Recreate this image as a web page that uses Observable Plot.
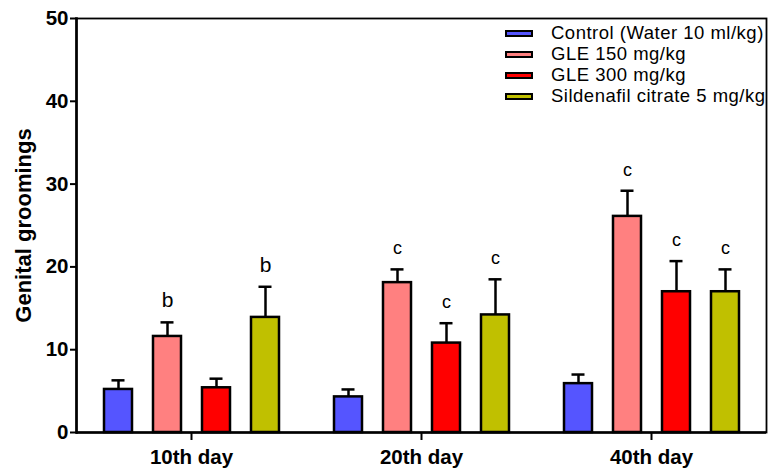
<!DOCTYPE html>
<html><head><meta charset="utf-8">
<script src="https://cdn.jsdelivr.net/npm/d3@7"></script>
<script src="https://cdn.jsdelivr.net/npm/@observablehq/plot@0.6"></script>
<style>
body{margin:0;background:#fff;}
#wrap{position:relative;width:769px;height:469px;font-family:"Liberation Sans",Arial,sans-serif;}
#wrap svg{display:block;}
#legend{position:absolute;left:505px;top:22.7px;}
.row{display:flex;align-items:center;height:21.1px;}
.sw{width:24px;height:3px;border:2px solid #000;margin-right:18px;flex:none;}
.lab{font-size:18.5px;letter-spacing:0.5px;color:#000;white-space:nowrap;line-height:1;}
</style></head><body><div id="wrap"><div id="legend"></div></div>
<script>
const groups = ["10th day", "20th day", "40th day"];
const series = ["Control (Water 10 ml/kg)", "GLE 150 mg/kg", "GLE 300 mg/kg", "Sildenafil citrate 5 mg/kg"];
const colors = ["#5555ff", "#ff8080", "#ff0000", "#c0c000"];
const means10 = [5.2, 11.6, 5.4, 13.9];
const sems10  = [1.1, 1.7, 1.1, 3.7];
const sig10   = ["", "b", "", "b"];
const means20 = [4.3, 18.1, 10.8, 14.2];
const sems20  = [0.9, 1.6, 2.4, 4.3];
const sig20   = ["", "c", "c", "c"];
const means40 = [5.9, 26.1, 17.0, 17.0];
const sems40  = [1.1, 3.1, 3.7, 2.7];
const sig40   = ["", "c", "c", "c"];
const yTicks = [0, 10, 20, 30, 40, 50];
const yLabel = "Genital groomings";

const means = [means10, means20, means40];
const sems = [sems10, sems20, sems40];
const sigs = [sig10, sig20, sig40];
const data = [];
groups.forEach((g, gi) => series.forEach((s, si) => data.push({
  group: g, series: s, mean: means[gi][si], sem: sems[gi][si], sig: sigs[gi][si]
})));

const plot = Plot.plot({
  width: 769, height: 469,
  marginLeft: 76, marginRight: 3, marginTop: 18, marginBottom: 37,
  style: {fontFamily: "Liberation Sans, Arial, sans-serif", fontSize: "19px", color: "#000", background: "#fff", overflow: "visible"},
  fx: {domain: groups, padding: 0, label: null},
  x: {domain: series, paddingInner: 0.43, paddingOuter: 0.54, axis: null},
  y: {domain: [0, 50]},
  color: {domain: series, range: colors},
  marks: [
    Plot.frame({facet: "super", stroke: "#000", strokeWidth: 1.8}),
    Plot.frame({facet: "super", anchor: "left", stroke: "#000", strokeWidth: 2.6}),
    Plot.barY(data, {fx: "group", x: "series", y: "mean", fill: "series", stroke: "#000", strokeWidth: 2.5}),
    Plot.ruleX(data, {fx: "group", x: "series", y1: "mean", y2: d => d.mean + d.sem, stroke: "#000", strokeWidth: 2.5}),
    Plot.tickY(data, {fx: "group", x: "series", y: d => d.mean + d.sem, stroke: "#000", strokeWidth: 2.5, insetLeft: 7.5, insetRight: 7.5}),
    Plot.text(data.filter(d => d.sig), {fx: "group", x: "series", y: d => d.mean + d.sem, text: "sig", dy: -15, lineAnchor: "bottom",
      fontSize: d => d.sig === "b" ? 21 : 18}),
    Plot.ruleY([0], {stroke: "#000", strokeWidth: 2.5}),
    Plot.axisY({ticks: yTicks, tickSize: 6, tickPadding: 2, fontWeight: "bold", fontSize: 20.5, strokeWidth: 2, label: null}),
    Plot.axisY({ticks: [], tickSize: 0, fontWeight: "bold", fontSize: 22,
      label: yLabel, labelAnchor: "center", labelOffset: 61, labelArrow: "none"}),
    Plot.axisFx({anchor: "bottom", tickSize: 8, tickPadding: 9, fontWeight: "bold", fontSize: 20.5, strokeWidth: 2, label: null})
  ]
});
const wrap = document.getElementById("wrap");
wrap.insertBefore(plot, wrap.firstChild);

const legend = d3.select("#legend");
series.forEach((s, i) => {
  const row = legend.append("div").attr("class", "row");
  row.append("div").attr("class", "sw").style("background", colors[i]);
  row.append("div").attr("class", "lab").text(s);
});
</script></body></html>
